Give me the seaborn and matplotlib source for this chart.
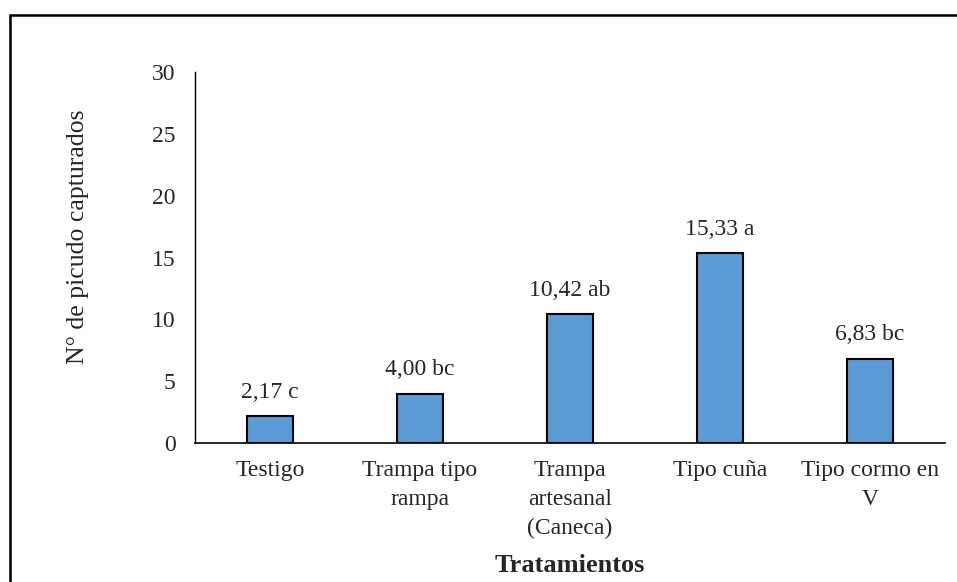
import matplotlib
matplotlib.use('Agg')
import matplotlib.pyplot as plt
import matplotlib.lines as mlines
import seaborn as sns
import pandas as pd

tratamientos = ['Testigo', 'Trampa tipo\nrampa', 'Trampa\nartesanal\n(Caneca)', 'Tipo cuña', 'Tipo cormo en\nV']
capturas = [2.17, 4.00, 10.42, 15.33, 6.83]
letras = ['c', 'bc', 'ab', 'a', 'bc']

df = pd.DataFrame({'Tratamiento': tratamientos, 'Capturados': capturas})

sns.set_style('white')
plt.rcParams['font.family'] = ['Liberation Serif', 'DejaVu Serif']

fig = plt.figure(figsize=(9.57, 5.82), dpi=100)
ax = fig.add_axes([0.2038, 0.2388, 0.7837, 0.6375])

sns.barplot(data=df, x='Tratamiento', y='Capturados', color='#5B9BD5', width=0.31,
            edgecolor='black', linewidth=1.5, saturation=1, ax=ax)

for i, (v, l) in enumerate(zip(capturas, letras)):
    ax.text(i, v + 1.1, f'{v:.2f}'.replace('.', ',') + ' ' + l,
            ha='center', va='bottom', fontsize=17)

ax.set_ylim(0, 30)
ax.set_xlim(-0.5, 4.5)
ax.set_yticks(range(0, 31, 5))
ax.tick_params(axis='y', labelsize=17, length=0, pad=14)
ax.tick_params(axis='x', labelsize=17, length=0, pad=12)
for lab in ax.get_xticklabels():
    lab.set_verticalalignment('top')
    lab.set_linespacing(1.5)
ax.set_xlabel('Tratamientos', fontsize=19, fontweight='bold', va='center')
ax.xaxis.set_label_coords(0.5, -0.329)
ax.set_ylabel('N° de picudo capturados', fontsize=18.5, va='center')
ax.yaxis.set_label_coords(-0.156, 0.555)
ax.spines['top'].set_visible(False)
ax.spines['right'].set_visible(False)
ax.spines['left'].set_color('black')
ax.spines['bottom'].set_color('black')
ax.spines['left'].set_linewidth(1)
ax.spines['bottom'].set_linewidth(1.2)

# outer frame (top and left only)
fig.add_artist(mlines.Line2D([9.5 / 957, 9.5 / 957], [0, 1 - 14.5 / 582], color='black', lw=1.8,
                             transform=fig.transFigure))
fig.add_artist(mlines.Line2D([9.5 / 957, 1], [1 - 14.5 / 582, 1 - 14.5 / 582], color='black', lw=1.8,
                             transform=fig.transFigure))

fig.savefig('out.png', dpi=100)
